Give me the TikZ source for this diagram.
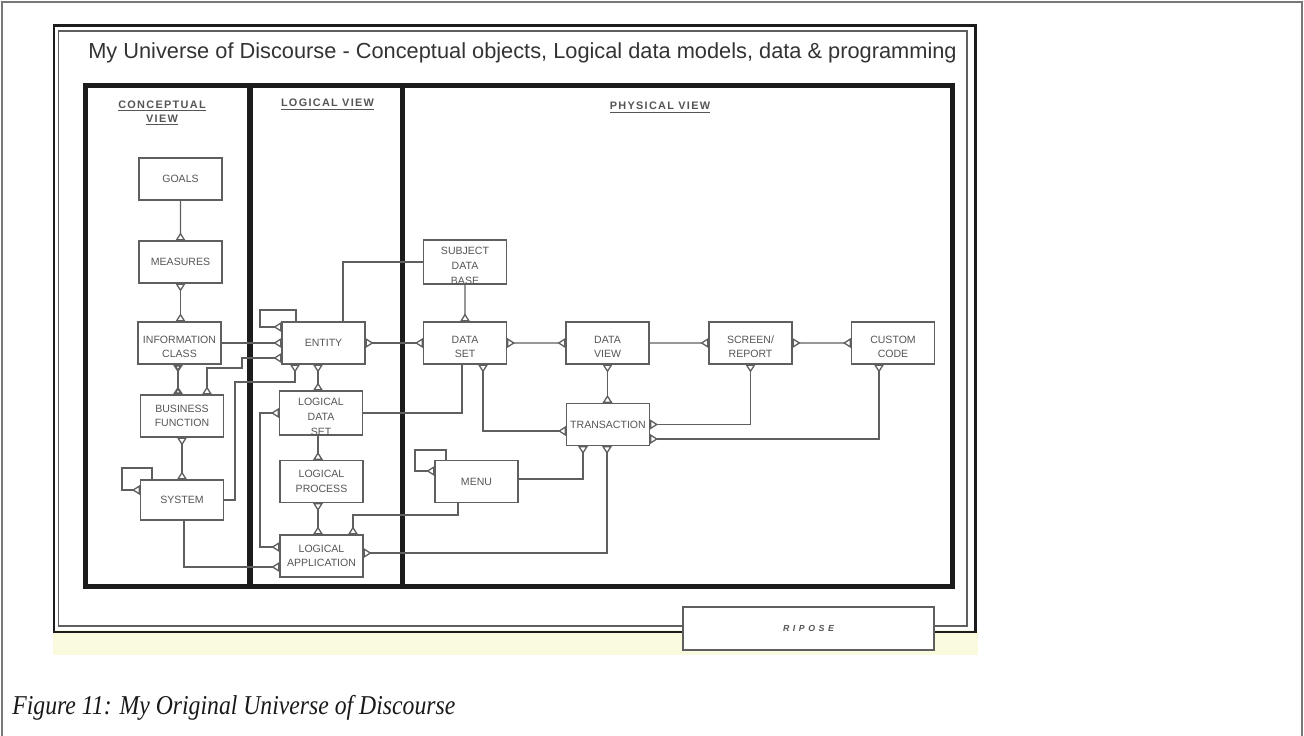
\documentclass[tikz,border=0pt]{standalone}
\usepackage{fontspec}
\setmainfont{Liberation Serif}
\setsansfont{Liberation Sans}
\newfontfamily\headfont[LetterSpace=12]{Liberation Sans}
\newfontfamily\ripfont[LetterSpace=40]{Liberation Sans}
\newfontfamily\capfont[FakeStretch=0.87]{Liberation Serif}
\usetikzlibrary{arrows.meta}
\definecolor{pageline}{RGB}{120,120,120}
\definecolor{scanline}{RGB}{95,95,95}
\definecolor{scantext}{RGB}{85,85,85}
\definecolor{scandark}{RGB}{28,28,28}
\definecolor{scantint}{RGB}{250,250,222}
\tikzset{crow/.tip={Triangle[open,reversed,length=4.5pt,width=5.5pt]}}
\newcommand{\lowtext}[1]{\raisebox{-2.6pt}[\height][\depth]{\begin{tabular}{@{}c@{}}#1\end{tabular}}}

\begin{document}
\begin{tikzpicture}[scale=0.2]
\tikzstyle{every node}+=[inner sep=0pt]
\tikzstyle{ent}=[draw=scanline, line width=0.75pt, minimum width=1.66cm, minimum height=0.84cm, align=center, text=scantext, font=\sffamily\fontsize{6}{8.3}\selectfont]
\tikzstyle{rel}=[draw=scanline, line width=0.75pt]
\tikzstyle{colhead}=[text=scantext, align=center, font=\headfont\bfseries\fontsize{6.2}{8}\selectfont]
\useasboundingbox (0,0) rectangle (130.4,-73.6);
\draw [pageline, line width=0.8pt] (0.2,-73.6) -- (0.2,-0.2) -- (130.2,-0.2) -- (130.2,-73.6);
\fill [scantint] (5.3,-63.0) rectangle (97.8,-65.5);
\draw [scandark, line width=1.7pt] (5.4,-2.55) rectangle (97.55,-63.2);
\draw [scanline, line width=0.6pt] (5.85,-3.1) rectangle (96.7,-62.6);
\draw (80.85,-62.85) node [draw=scanline, line width=0.6pt, fill=white, minimum width=5.02cm, minimum height=0.86cm, text=scantext, font=\ripfont\bfseries\itshape\fontsize{5}{6}\selectfont] (ripose) {RIPOSE};
\draw (52.25,-5.85) node [anchor=base, text=black!80, font=\sffamily\fontsize{12.4}{14}\selectfont] (title) {My Universe of Discourse - Conceptual objects, Logical data models, data \& programming};
\draw [scandark, line width=2.8pt] (8.55,-8.55) rectangle (95.25,-58.65);
\draw [scandark, line width=3.4pt] (25.0,-8.55) -- (25.0,-58.65);
\draw [scandark, line width=2.8pt] (40.25,-8.55) -- (40.25,-58.65);
\draw (16.2,-11.3) node [colhead] (conhead) {\underline{CONCEPTUAL}\\\underline{VIEW}};
\draw (32.75,-10.5) node [colhead] (loghead) {\underline{LOGICAL VIEW}};
\draw (66.0,-10.8) node [colhead] (phyhead) {\underline{PHYSICAL VIEW}};
\draw (18.05,-17.9) node [ent] (goals) {GOALS};
\draw (18.05,-26.2) node [ent] (measures) {MEASURES};
\draw (17.95,-34.3) node [ent] (infoclass) {\lowtext{INFORMATION\\CLASS}};
\draw (18.2,-41.6) node [ent] (busfunc) {BUSINESS\\FUNCTION};
\draw (18.2,-50.0) node [ent, minimum height=0.8cm] (system) {SYSTEM};
\draw (32.35,-34.3) node [ent] (entity) {ENTITY};
\draw (32.1,-41.3) node [ent, minimum height=0.8cm] (ldataset) {\lowtext{LOGICAL\\DATA\\SET}};
\draw (32.15,-48.15) node [ent] (lprocess) {LOGICAL\\PROCESS};
\draw (32.15,-55.6) node [ent] (lapp) {LOGICAL\\APPLICATION};
\draw (46.5,-26.2) node [ent] (subjdb) {\lowtext{SUBJECT\\DATA\\BASE}};
\draw (46.5,-34.3) node [ent] (dataset) {\lowtext{DATA\\SET}};
\draw (60.75,-34.3) node [ent] (dataview) {\lowtext{DATA\\VIEW}};
\draw (75.05,-34.3) node [ent] (screen) {\lowtext{SCREEN/\\REPORT}};
\draw (89.3,-34.3) node [ent] (custom) {\lowtext{CUSTOM\\CODE}};
\draw (60.8,-42.45) node [ent] (transaction) {TRANSACTION};
\draw (47.65,-48.15) node [ent] (menu) {MENU};
\draw [rel, -crow] (goals) -- (measures);
\draw [rel, crow-crow] (measures.south) -- (infoclass.north -| measures.south);
\draw [rel, crow-crow, line width=1.2pt] (infoclass.south -| 17.8,0) -- (busfunc.north -| 17.8,0);
\draw [rel, crow-crow] (busfunc.south) -- (system.north);
\draw [rel, -crow] (system.north -| 15.2,0) |- (12.2,-46.8) |- (system.west |- 0,-49.0);
\draw [rel, -crow] (entity.north -| 29.6,0) |- (26.0,-31.0) |- (entity.west |- 0,-32.7);
\draw [rel, -crow] (infoclass.east) -- (entity.west);
\draw [rel, crow-crow] (busfunc.north -| 20.7,0) |- (24.2,-36.8) |- (entity.west |- 0,-35.8);
\draw [rel, -crow] (system.east) -| (23.5,-38.2) -| (entity.south -| 29.5,0);
\draw [rel, crow-crow] (entity.south -| 31.8,0) -- (ldataset.north -| 31.8,0);
\draw [rel, -crow] (ldataset.south -| 31.8,0) -- (lprocess.north -| 31.8,0);
\draw [rel, crow-crow] (lprocess.south -| 31.8,0) -- (lapp.north -| 31.8,0);
\draw [rel, crow-crow] (ldataset.west) -| (26.0,-54.7) -- (lapp.west |- 0,-54.7);
\draw [rel] (ldataset.east) -| (dataset.south -| 46.2,0);
\draw [rel, crow-crow] (dataset.south -| 48.3,0) |- (transaction.west |- 0,-43.1);
\draw [rel, crow-crow] (entity.east) -- (dataset.west);
\draw [rel] (entity.north -| 34.3,0) |- (subjdb.west);
\draw [rel, -crow] (subjdb) -- (dataset);
\draw [rel, crow-crow] (dataset) -- (dataview);
\draw [rel, -crow] (dataview) -- (screen);
\draw [rel, crow-crow] (screen) -- (custom);
\draw [rel, crow-crow] (dataview.south) -- (transaction.north -| dataview.south);
\draw [rel, crow-crow] (screen.south) |- (transaction.east);
\draw [rel, crow-crow] (custom.south -| 87.9,0) |- (transaction.east |- 0,-43.9);
\draw [rel, -crow] (menu.east |- 0,-47.9) -| (transaction.south -| 58.3,0);
\draw [rel, crow-crow] (transaction.south -| 60.7,0) |- (lapp.east |- 0,-55.3);
\draw [rel, -crow] (menu.north -| 44.6,0) |- (41.5,-45.0) |- (menu.west |- 0,-47.1);
\draw [rel, -crow] (menu.south -| 45.8,0) |- (35.3,-51.5) -- (lapp.north -| 35.3,0);
\draw [rel, -crow] (system.south -| 18.4,0) |- (lapp.west |- 0,-56.7);
\draw (1.2,-71.4) node [anchor=base west, text=black!90, font=\capfont\itshape\fontsize{15.5}{18}\selectfont] (caption) {Figure 11: My Original Universe of Discourse};
\end{tikzpicture}
\end{document}
